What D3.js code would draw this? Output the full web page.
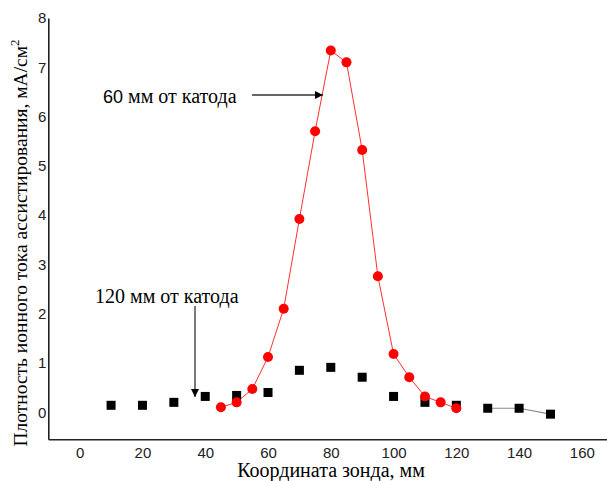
<!DOCTYPE html>
<html><head><meta charset="utf-8">
<script src="https://cdn.jsdelivr.net/npm/d3@7"></script>
<style>body{margin:0;background:#fff}svg{display:block}</style>
</head><body><svg id="c" width="607" height="481"></svg>
<script>
const redX = [45,50,55,60,65,70,75,80,85,90,95,100,105,110,115,120];
const redY = [0.1,0.2,0.47,1.12,2.1,3.92,5.7,7.34,7.1,5.32,2.76,1.18,0.71,0.32,0.2,0.08];
const blackX = [10,20,30,40,50,60,70,80,90,100,110,120,130,140,150];
const blackY = [0.14,0.14,0.2,0.32,0.34,0.4,0.85,0.91,0.71,0.32,0.2,0.14,0.08,0.08,-0.04];
const xTicks = [0,20,40,60,80,100,120,140,160];
const yTicks = [0,1,2,3,4,5,6,7,8];

const SERIF = "'Liberation Serif', 'Times New Roman', serif";
const SANS = "'Liberation Sans', Arial, sans-serif";
const svg = d3.select("#c");
const L=48.3, R=607, T=18, B=439.3;
const x = d3.scaleLinear().domain([-10,168]).range([L,R]);
const y = d3.scaleLinear().domain([-0.55,8]).range([B,T]);

const xa = svg.append("g").attr("transform",`translate(0,${B})`)
  .call(d3.axisBottom(x).tickValues(xTicks).tickSize(0).tickPadding(4).tickFormat(d3.format("d")));
const ya = svg.append("g").attr("transform",`translate(${L},0)`)
  .call(d3.axisLeft(y).tickValues(yTicks).tickSize(0).tickPadding(2).tickFormat(d3.format("d")));
[xa,ya].forEach(a=>{
  a.select(".domain").attr("stroke","#222").attr("stroke-width",1.6);
  a.selectAll("text").attr("font-family",SANS).attr("font-size",15).attr("fill","#222");
});
xa.selectAll("text").attr("dy","0.95em");

const line = d3.line().x(d=>x(d[0])).y(d=>y(d[1]));
const bPts = blackX.map((v,i)=>[v,blackY[i]]);
svg.append("path").datum(bPts.slice(12)).attr("d",line).attr("fill","none").attr("stroke","#888").attr("stroke-width",1.2);
const rPts = redX.map((v,i)=>[v,redY[i]]);
svg.append("path").datum(rPts).attr("d",line).attr("fill","none").attr("stroke","#ff3030").attr("stroke-width",1);

svg.selectAll("rect.b").data(bPts).join("rect").attr("class","b")
  .attr("x",d=>x(d[0])-4.5).attr("y",d=>y(d[1])-4.5).attr("width",9).attr("height",9).attr("fill","#000");
svg.selectAll("circle.r").data(rPts).join("circle").attr("class","r")
  .attr("cx",d=>x(d[0])).attr("cy",d=>y(d[1])).attr("r",5).attr("fill","#ff0000");

const defs = svg.append("defs");
defs.append("marker").attr("id","ah").attr("viewBox","0 0 10 10").attr("refX",10).attr("refY",5)
  .attr("markerWidth",14).attr("markerHeight",8).attr("markerUnits","userSpaceOnUse").attr("orient","auto")
  .append("path").attr("d","M0,0L10,5L0,10z").attr("fill","#000");

const t1 = svg.append("text").attr("x",103).attr("y",103).attr("font-size",20).attr("fill","#000");
t1.append("tspan").attr("font-family",SANS).attr("font-size",18).text("60 ");
t1.append("tspan").attr("font-family",SERIF).text("мм от катода");
svg.append("line").attr("x1",252).attr("y1",95).attr("x2",323).attr("y2",95)
  .attr("stroke","#333").attr("stroke-width",1.3).attr("marker-end","url(#ah)");

svg.append("text").attr("x",95).attr("y",303).attr("font-size",20)
  .attr("font-family",SERIF).attr("fill","#000").text("120 мм от катода");
svg.append("line").attr("x1",195).attr("y1",306).attr("x2",195).attr("y2",397)
  .attr("stroke","#333").attr("stroke-width",1.3).attr("marker-end","url(#ah)");

svg.append("text").attr("x",331).attr("y",477).attr("text-anchor","middle").attr("font-size",20)
  .attr("font-family",SERIF).attr("fill","#000").text("Координата зонда, мм");
const yl = svg.append("text").attr("transform","translate(27,243) rotate(-90)").attr("text-anchor","middle")
  .attr("font-size",19.5).attr("font-family",SERIF).attr("fill","#000");
yl.append("tspan").text("Плотность ионного тока ассистирования, мА/см");
yl.append("tspan").attr("dy",-8).attr("font-size",13).text("2");
</script></body></html>
